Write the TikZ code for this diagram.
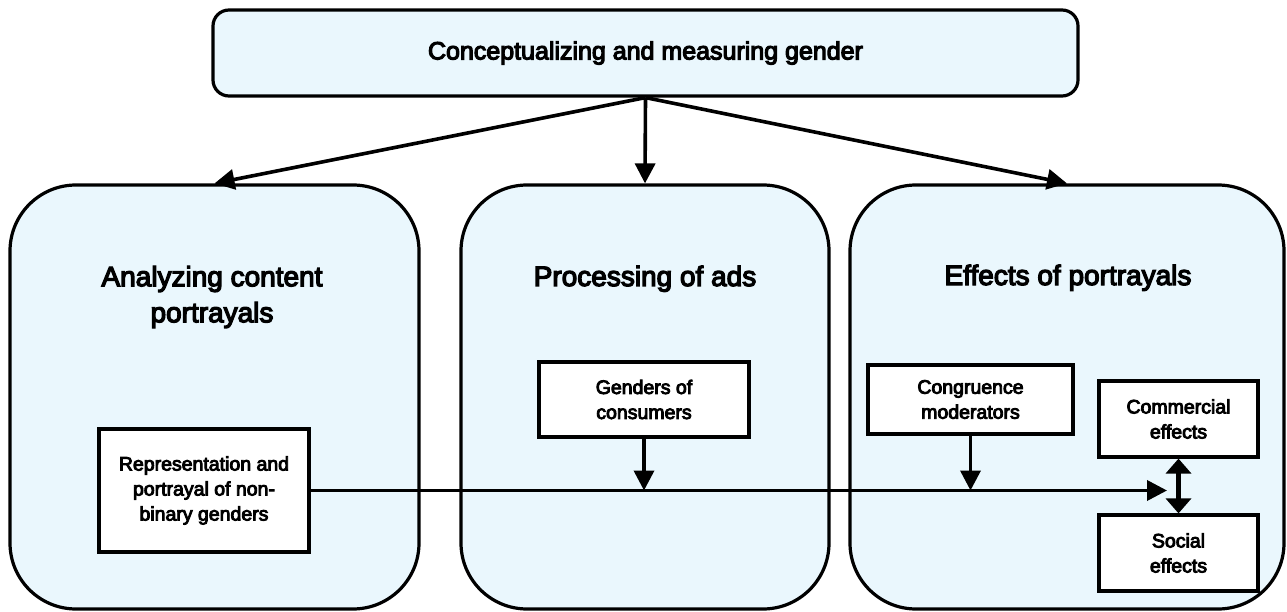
\documentclass[tikz,border=0pt]{standalone}
\usepackage{fontspec}
\setmainfont{Liberation Sans}
\newfontfamily\diafont[FakeBold=4.5]{Liberation Sans}
\usetikzlibrary{arrows.meta}
\definecolor{panel}{RGB}{234,247,253}
\tikzset{
  bigbox/.style={draw=black, line width=3.2pt, fill=panel, rounded corners=66pt, inner sep=0pt},
  topbox/.style={draw=black, line width=3.2pt, fill=panel, rounded corners=16pt, inner sep=0pt,
    font=\diafont\fontsize{25}{30}\selectfont},
  smallbox/.style={draw=black, line width=3.2pt, fill=white, inner sep=0pt, align=center,
    font=\diafont\fontsize{19.5}{25}\selectfont},
  biglabel/.style={inner sep=0pt, align=center, font=\diafont\fontsize{28}{36}\selectfont},
  conn/.style={line width=3.6pt, -{Triangle[length=20pt,width=20pt]}},
  dconn/.style={line width=5.2pt, {Triangle[length=15pt,width=25pt]}-{Triangle[length=15pt,width=25pt]}}
}
\begin{document}
\begin{tikzpicture}[x=1pt,y=-1pt]
\useasboundingbox (0,0) rectangle (1287,612);
\node[topbox, minimum width=865pt, minimum height=86pt] (top) at (645.5,53) {Conceptualizing and measuring gender};
\node[bigbox, minimum width=409pt, minimum height=424pt] (L) at (214.5,397) {};
\node[bigbox, minimum width=368pt, minimum height=424pt] (M) at (645,397) {};
\node[bigbox, minimum width=434pt, minimum height=424pt] (Rt) at (1067,397) {};
\node[biglabel] (Ltxt) at (212,297) {Analyzing content\\portrayals};
\node[biglabel, anchor=base] (Mtxt) at (645,286) {Processing of ads};
\node[biglabel, anchor=base] (Rtxt) at (1068,285) {Effects of portrayals};
\node[smallbox, minimum width=210pt, minimum height=123pt] (rep) at (204,490.5) {Representation and\\portrayal of non-\\binary genders};
\node[smallbox, minimum width=210pt, minimum height=75pt] (gen) at (644,399.5) {Genders of\\consumers};
\node[smallbox, minimum width=205pt, minimum height=69pt] (cong) at (970.5,399.5) {Congruence\\moderators};
\node[smallbox, minimum width=159pt, minimum height=76pt] (com) at (1178.5,419) {Commercial\\effects};
\node[smallbox, minimum width=159pt, minimum height=76pt] (soc) at (1178.5,553) {Social\\effects};
\coordinate (hend) at (1167,490);
\draw[conn] (top.south) -- (L.north);
\draw[conn] (top.south) -- (M.north);
\draw[conn] (top.south) -- (Rt.north);
\draw[conn] (rep.east) -- (rep.east -| hend);
\draw[conn] (gen.south) -- (gen.south |- rep.east);
\draw[conn] (cong.south) -- (cong.south |- rep.east);
\draw[dconn] (com.south) -- (soc.north);
\end{tikzpicture}
\end{document}
